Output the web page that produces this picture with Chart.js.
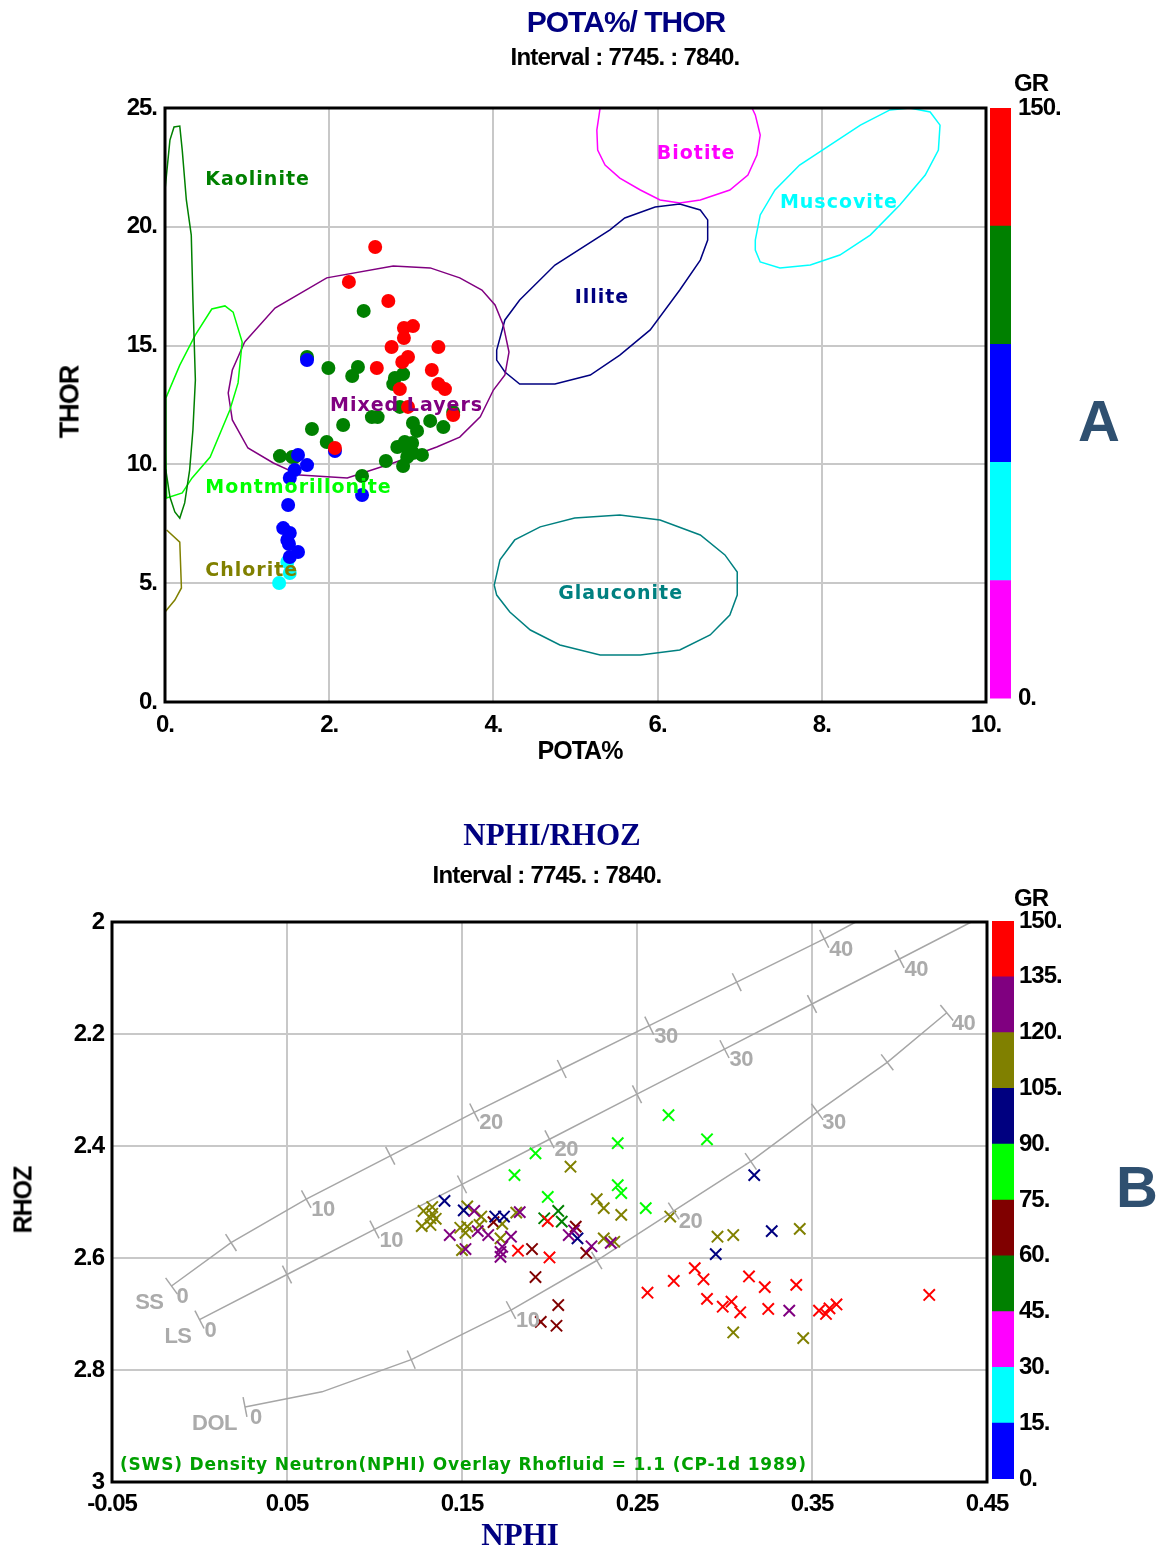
<!DOCTYPE html>
<html>
<head>
<meta charset="utf-8">
<script src="https://cdn.jsdelivr.net/npm/chart.js@4.4.1/dist/chart.umd.min.js"></script>
<style>
  body { margin: 0; background: #fff; }
  #page { position: relative; width: 1169px; height: 1549px; overflow: hidden; background: #fff; }
  canvas { position: absolute; }
  .txt { position: absolute; transform: translate(-50%, -50%); white-space: nowrap;
         font-family: 'Liberation Sans', Arial, sans-serif; font-weight: bold; color: #000; }
  .serif { font-family: 'Liberation Serif', 'Times New Roman', serif; }
</style>
</head>
<body>
<div id="page">
  <canvas id="potaChart" width="1169" height="790" style="left:0;top:0"></canvas>
  <canvas id="potaBar" width="110" height="650" style="left:985px;top:70px"></canvas>
  <canvas id="nphiChart" width="1169" height="749" style="left:0;top:800px"></canvas>
  <canvas id="nphiBar" width="110" height="620" style="left:987px;top:880px"></canvas>

  <div class="txt" style="left:626px;top:22px;font-size:30px;color:#000080;letter-spacing:-1px">POTA%/ THOR</div>
  <div class="txt" style="left:625px;top:57px;font-size:24px;letter-spacing:-0.8px">Interval : 7745. : 7840.</div>
  <div class="txt" style="left:580px;top:750px;font-size:25px;letter-spacing:-1px">POTA%</div>
  <div class="txt" style="left:70px;top:402px;font-size:27px;letter-spacing:-1px;transform:translate(-50%,-50%) rotate(-90deg)">THOR</div>
  <div class="txt" style="left:1031px;top:83px;font-size:24px;letter-spacing:-1px">GR</div>
  <div class="txt" style="left:1099px;top:420px;font-size:58px;color:#2f5070">A</div>

  <div class="txt serif" style="left:552px;top:835px;font-size:31px;color:#000080">NPHI/RHOZ</div>
  <div class="txt" style="left:547px;top:875px;font-size:24px;letter-spacing:-0.8px">Interval : 7745. : 7840.</div>
  <div class="txt serif" style="left:520px;top:1535px;font-size:31px;color:#000080">NPHI</div>
  <div class="txt" style="left:23px;top:1200px;font-size:25px;letter-spacing:-1px;transform:translate(-50%,-50%) rotate(-90deg)">RHOZ</div>
  <div class="txt" style="left:1031px;top:898px;font-size:24px;letter-spacing:-1px">GR</div>
  <div class="txt" style="left:1137px;top:1186px;font-size:58px;color:#2f5070">B</div>
</div>
<script>
// ---- POTA% / THOR crossplot ----
const potaTicks = [0, 2, 4, 6, 8, 10];
const potaLabels = ['0.', '2.', '4.', '6.', '8.', '10.'];
const thorTicks = [0, 5, 10, 15, 20, 25];
const thorLabels = ['0.', '5.', '10.', '15.', '20.', '25.'];

// points grouped by GR colour class
const potaRed = [2.56, 2.24, 2.72, 2.91, 3.02, 2.91, 2.76, 3.33, 2.96, 2.89, 2.58, 3.25, 3.33, 3.41, 2.86, 2.96, 3.51, 2.07];
const thorRed = [19.15, 17.68, 16.88, 15.74, 15.82, 15.32, 14.94, 14.94, 14.52, 14.31, 14.06, 13.97, 13.38, 13.17, 13.17, 12.42, 12.08, 10.69];
const potaGreen = [2.42, 1.99, 2.35, 2.28, 2.90, 2.80, 2.78, 2.86, 2.52, 2.59, 2.17, 1.79, 3.02, 3.07, 3.23, 3.39, 3.51, 1.97, 2.83, 2.92, 3.01, 2.96, 3.02, 3.13, 2.95, 2.69, 2.90, 2.40, 1.40, 1.55, 1.58, 1.73];
const thorGreen = [16.46, 14.06, 14.10, 13.72, 13.80, 13.64, 13.38, 12.42, 11.99, 11.99, 11.66, 11.49, 11.74, 11.41, 11.83, 11.57, 12.21, 10.94, 10.73, 10.94, 10.90, 10.61, 10.48, 10.40, 10.31, 10.14, 9.93, 9.51, 10.35, 10.31, 10.31, 14.52];
const potaBlue = [1.73, 1.62, 1.73, 1.58, 1.52, 2.07, 2.40, 1.50, 1.44, 1.52, 1.49, 1.51, 1.62, 1.52];
const thorBlue = [14.39, 10.40, 9.97, 9.76, 9.43, 10.56, 8.71, 8.29, 7.32, 7.11, 6.82, 6.65, 6.31, 6.10];
const potaCyan = [1.49, 1.52, 1.39];
const thorCyan = [5.89, 5.43, 5.01];

// mineral envelopes [pota, thor]
const kaolinite = [[0, 21.55], [0.06, 23.65], [0.11, 24.2], [0.18, 24.24], [0.21, 23.23], [0.26, 21.13], [0.32, 19.65], [0.34, 16.92], [0.37, 13.55], [0.34, 11.45], [0.30, 9.76], [0.24, 8.38], [0.18, 7.74], [0.12, 8.0], [0.06, 8.63], [0.01, 9.76], [0, 11.03]];
const montmorillonite = [[0.01, 12.79], [0.18, 14.18], [0.37, 15.45], [0.57, 16.54], [0.73, 16.67], [0.83, 16.41], [0.94, 15.15], [0.89, 13.43], [0.79, 12.29], [0.55, 10.31], [0.33, 9.43], [0.21, 8.80], [0.02, 8.59], [0.01, 10.5], [0.01, 12.79]];
const chlorite = [[0.02, 7.24], [0.18, 6.73], [0.20, 4.80], [0.12, 4.29], [0.04, 3.96], [0, 3.79]];
const mixedLayers = [[0.97, 15.15], [1.34, 16.58], [1.97, 17.85], [2.78, 18.35], [3.23, 18.27], [3.59, 17.85], [3.86, 17.34], [4.02, 16.71], [4.12, 15.87], [4.19, 14.73], [4.14, 13.76], [4.00, 13.13], [3.84, 12.0], [3.59, 11.15], [3.31, 10.73], [2.78, 10.06], [2.22, 9.43], [1.64, 9.55], [1.32, 10.06], [1.01, 10.69], [0.82, 11.87], [0.77, 13.0], [0.82, 13.97], [0.97, 15.15]];
const illite = [[4.04, 14.81], [4.14, 16.08], [4.32, 16.92], [4.75, 18.39], [5.42, 19.87], [5.60, 20.37], [5.97, 20.83], [6.27, 20.96], [6.52, 20.71], [6.61, 20.29], [6.61, 19.44], [6.52, 18.60], [6.27, 17.34], [5.91, 15.66], [5.54, 14.60], [5.18, 13.76], [4.75, 13.38], [4.32, 13.38], [4.14, 13.89], [4.04, 14.39], [4.04, 14.81]];
const biotite = [[5.30, 25.0], [5.26, 24.07], [5.27, 23.23], [5.36, 22.60], [5.54, 22.05], [5.79, 21.55], [6.03, 21.13], [6.27, 21.0], [6.52, 21.13], [6.88, 21.55], [7.10, 22.18], [7.21, 23.02], [7.25, 23.86], [7.19, 24.71], [7.15, 25.0]];
const muscovite = [[7.19, 19.44], [7.25, 20.50], [7.43, 21.55], [7.73, 22.60], [8.10, 23.44], [8.47, 24.28], [8.83, 24.92], [9.07, 25.0], [9.32, 24.83], [9.44, 24.28], [9.42, 23.23], [9.26, 22.18], [8.95, 20.92], [8.59, 19.65], [8.22, 18.81], [7.86, 18.39], [7.49, 18.27], [7.25, 18.52], [7.19, 19.02], [7.19, 19.44]];
const glauconite = [[4.01, 4.92], [4.08, 5.98], [4.26, 6.82], [4.57, 7.37], [4.99, 7.74], [5.54, 7.87], [6.03, 7.66], [6.52, 7.03], [6.82, 6.19], [6.97, 5.47], [6.97, 4.50], [6.88, 3.66], [6.64, 2.82], [6.27, 2.19], [5.79, 1.98], [5.30, 1.98], [4.81, 2.40], [4.45, 3.03], [4.20, 3.79], [4.04, 4.50], [4.01, 4.92]];

const mineralNames = ['Kaolinite', 'Montmorillonite', 'Chlorite', 'Mixed Layers', 'Illite', 'Biotite', 'Muscovite', 'Glauconite'];
const mineralColors = ['#008000', '#00ff00', '#808000', '#800080', '#000080', '#ff00ff', '#00ffff', '#008080'];
const mineralShapes = [kaolinite, montmorillonite, chlorite, mixedLayers, illite, biotite, muscovite, glauconite];
const mineralLabelPos = [[0.49, 21.97], [0.49, 9.0], [0.49, 5.51], [2.01, 12.46], [4.99, 17.0], [5.99, 23.06], [7.49, 21.0], [4.79, 4.55]];

// GR colour bars
const grTopEdges = [0, 30, 60, 90, 120, 150];
const grTopColors = ['#ff00ff', '#00ffff', '#0000ff', '#008000', '#ff0000'];
const grTopTicks = [0, 150];
const grTopLabels = ['0.', '150.'];
const grBottomEdges = [0, 15, 30, 45, 60, 75, 90, 105, 120, 135, 150];
const grBottomColors = ['#0000ff', '#00ffff', '#ff00ff', '#008000', '#800000', '#00ff00', '#000080', '#808000', '#800080', '#ff0000'];
const grBottomLabels = ['0.', '15.', '30.', '45.', '60.', '75.', '90.', '105.', '120.', '135.', '150.'];

// ---- NPHI / RHOZ crossplot ----
const nphiTicks = [-0.05, 0.05, 0.15, 0.25, 0.35, 0.45];
const nphiLabels = ['-0.05', '0.05', '0.15', '0.25', '0.35', '0.45'];
const rhozTicks = [2, 2.2, 2.4, 2.6, 2.8, 3];
const rhozLabels = ['2', '2.2', '2.4', '2.6', '2.8', '3'];

const nphiRed = [0.199, 0.182, 0.200, 0.256, 0.271, 0.283, 0.288, 0.290, 0.299, 0.304, 0.309, 0.314, 0.323, 0.325, 0.341, 0.354, 0.358, 0.360, 0.364, 0.417];
const rhozRed = [2.534, 2.587, 2.599, 2.662, 2.641, 2.618, 2.638, 2.673, 2.687, 2.678, 2.697, 2.633, 2.652, 2.691, 2.648, 2.694, 2.700, 2.690, 2.683, 2.666];
const nphiPurple = [0.157, 0.143, 0.152, 0.159, 0.165, 0.178, 0.173, 0.172, 0.172, 0.183, 0.211, 0.214, 0.224, 0.235, 0.337];
const rhozPurple = [2.516, 2.559, 2.584, 2.552, 2.559, 2.562, 2.580, 2.589, 2.598, 2.518, 2.559, 2.551, 2.579, 2.573, 2.694];
const nphiOlive = [0.128, 0.133, 0.133, 0.132, 0.127, 0.132, 0.135, 0.153, 0.149, 0.153, 0.152, 0.161, 0.160, 0.173, 0.181, 0.172, 0.150, 0.212, 0.227, 0.231, 0.241, 0.231, 0.237, 0.269, 0.296, 0.305, 0.343, 0.305, 0.345];
const rhozOlive = [2.516, 2.509, 2.521, 2.529, 2.543, 2.541, 2.530, 2.508, 2.546, 2.544, 2.555, 2.526, 2.541, 2.539, 2.519, 2.565, 2.586, 2.437, 2.495, 2.511, 2.523, 2.565, 2.571, 2.526, 2.562, 2.559, 2.548, 2.733, 2.743];
const nphiNavy = [0.140, 0.151, 0.169, 0.174, 0.216, 0.295, 0.317, 0.327];
const rhozNavy = [2.498, 2.515, 2.526, 2.526, 2.565, 2.593, 2.452, 2.552];
const nphiLime = [0.268, 0.290, 0.239, 0.192, 0.180, 0.199, 0.239, 0.241, 0.255];
const rhozLime = [2.345, 2.388, 2.395, 2.413, 2.452, 2.491, 2.470, 2.484, 2.511];
const nphiMaroon = [0.168, 0.190, 0.192, 0.205, 0.195, 0.204, 0.215, 0.221];
const rhozMaroon = [2.536, 2.584, 2.634, 2.684, 2.714, 2.721, 2.544, 2.591];
const nphiGreen = [0.205, 0.207, 0.197];
const rhozGreen = [2.516, 2.535, 2.529];

// lithology lines (rho fluid 1.1), porosity in p.u., null = no tick
const ssNphi = [-0.016, 0.018, 0.061, 0.109, 0.157, 0.207, 0.257, 0.307, 0.357, 0.375];
const ssRhoz = [2.65, 2.5725, 2.495, 2.4175, 2.34, 2.2625, 2.185, 2.1075, 2.03, 2.0];
const ssPor = [0, 5, 10, 15, 20, 25, 30, 35, 40, null];
const lsNphi = [0, 0.05, 0.10, 0.15, 0.20, 0.25, 0.30, 0.35, 0.40, 0.441];
const lsRhoz = [2.71, 2.6295, 2.549, 2.4685, 2.388, 2.3075, 2.227, 2.1465, 2.066, 2.0];
const lsPor = [0, 5, 10, 15, 20, 25, 30, 35, 40, null];
const dolNphi = [0.026, 0.070, 0.121, 0.178, 0.227, 0.271, 0.315, 0.353, 0.393, 0.427];
const dolRhoz = [2.866, 2.839, 2.7815, 2.693, 2.6045, 2.516, 2.4275, 2.339, 2.2505, 2.162];
const dolPor = [0, null, 5, 10, 15, 20, 25, 30, 35, 40];

const footnote = '(SWS) Density Neutron(NPHI) Overlay Rhofluid = 1.1 (CP-1d 1989)';

Chart.defaults.font.family = "'Liberation Sans', Arial, sans-serif";
Chart.defaults.color = '#000';

const pts = (xs, ys) => xs.map((x, i) => ({ x: x, y: ys[i] }));
const pairs = arr => arr.map(p => ({ x: p[0], y: p[1] }));
const tickFont = { size: 24, weight: 'bold' };

// squeeze tick text a little like the original renderer
const tightText = {
    id: 'tightText',
    beforeDraw(chart) { chart.ctx.letterSpacing = '-1px'; }
};

const frame = {
    id: 'frame',
    afterDatasetsDraw(chart) {
        const { ctx, chartArea: a } = chart;
        ctx.save();
        ctx.strokeStyle = '#000';
        ctx.lineWidth = 3;
        ctx.strokeRect(a.left, a.top, a.right - a.left, a.bottom - a.top);
        ctx.restore();
    }
};

const mineralText = {
    id: 'mineralText',
    afterDraw(chart) {
        const { ctx, scales: { x, y } } = chart;
        ctx.save();
        ctx.font = "bold 19px 'DejaVu Sans', Verdana, sans-serif";
        ctx.letterSpacing = '1px';
        ctx.textAlign = 'left';
        ctx.textBaseline = 'middle';
        mineralNames.forEach((name, i) => {
            ctx.fillStyle = mineralColors[i];
            ctx.fillText(name, x.getPixelForValue(mineralLabelPos[i][0]), y.getPixelForValue(mineralLabelPos[i][1]));
        });
        ctx.restore();
    }
};

const lithoLines = [
    { name: 'SS', nphi: ssNphi, rhoz: ssRhoz, por: ssPor },
    { name: 'LS', nphi: lsNphi, rhoz: lsRhoz, por: lsPor },
    { name: 'DOL', nphi: dolNphi, rhoz: dolRhoz, por: dolPor }
];

const overlay = {
    id: 'overlay',
    afterDatasetsDraw(chart) {
        const { ctx, chartArea: a, scales: { x, y } } = chart;
        ctx.save();
        ctx.strokeStyle = '#a6a6a6';
        ctx.lineWidth = 1.5;
        ctx.fillStyle = '#ababab';
        ctx.font = "bold 22px 'Liberation Sans', Arial, sans-serif";
        ctx.letterSpacing = '-0.5px';
        ctx.textBaseline = 'middle';
        lithoLines.forEach(line => {
            const px = line.nphi.map(v => x.getPixelForValue(v));
            const py = line.rhoz.map(v => y.getPixelForValue(v));
            line.por.forEach((p, i) => {
                if (p === null) return;
                const j0 = Math.max(i - 1, 0), j1 = Math.min(i + 1, px.length - 1);
                let dx = px[j1] - px[j0], dy = py[j1] - py[j0];
                const len = Math.hypot(dx, dy);
                const nx = -dy / len, ny = dx / len;
                ctx.beginPath();
                ctx.moveTo(px[i] - nx * 10, py[i] - ny * 10);
                ctx.lineTo(px[i] + nx * 10, py[i] + ny * 10);
                ctx.stroke();
                if (p % 10 === 0) {
                    ctx.textAlign = 'left';
                    ctx.fillText(String(p), px[i] + 5, py[i] + 11);
                }
            });
            ctx.textAlign = 'right';
            ctx.fillText(line.name, px[0] - 8, py[0] + 17);
        });
        // chart note
        ctx.fillStyle = '#00a000';
        ctx.font = "bold 17px 'DejaVu Sans', Verdana, sans-serif";
        ctx.letterSpacing = '0.8px';
        ctx.textAlign = 'left';
        ctx.fillText(footnote, a.left + 8, a.bottom - 16);
        ctx.restore();
    }
};

// POTA / THOR chart
const potaDatasets = [
    { data: pts(potaRed, thorRed), color: '#ff0000' },
    { data: pts(potaBlue, thorBlue), color: '#0000ff' },
    { data: pts(potaGreen, thorGreen), color: '#008000' },
    { data: pts(potaCyan, thorCyan), color: '#00ffff' }
].map(d => ({
    data: d.data, pointRadius: 7, pointStyle: 'circle',
    backgroundColor: d.color, borderWidth: 0, showLine: false
}));
mineralShapes.forEach((shape, i) => {
    potaDatasets.push({
        data: pairs(shape), showLine: true, pointRadius: 0,
        borderColor: mineralColors[i], borderWidth: 1.5, tension: 0, fill: false
    });
});

new Chart(document.getElementById('potaChart'), {
    type: 'scatter',
    data: { datasets: potaDatasets },
    options: {
        responsive: false,
        animation: false,
        layout: { padding: { top: 108, right: 183, bottom: 8, left: 0 } },
        plugins: { legend: { display: false }, tooltip: { enabled: false } },
        scales: {
            x: {
                type: 'linear', min: 0, max: 10,
                afterBuildTicks: s => { s.ticks = potaTicks.map(v => ({ value: v })); },
                afterFit: s => { s.height = 80; },
                grid: { color: '#c8c8c8', lineWidth: 2, drawTicks: false },
                border: { display: false },
                ticks: { padding: 9, font: tickFont, maxRotation: 0, callback: (v, i) => potaLabels[i] }
            },
            y: {
                type: 'linear', min: 0, max: 25,
                afterBuildTicks: s => { s.ticks = thorTicks.map(v => ({ value: v })); },
                afterFit: s => { s.width = 165; },
                grid: { color: '#c8c8c8', lineWidth: 2, drawTicks: false },
                border: { display: false },
                ticks: { padding: 8, font: tickFont, callback: (v, i) => thorLabels[i] }
            }
        }
    },
    plugins: [tightText, frame, mineralText]
});

// NPHI / RHOZ chart
const nphiDatasets = [
    { data: pts(nphiRed, rhozRed), color: '#ff0000' },
    { data: pts(nphiPurple, rhozPurple), color: '#800080' },
    { data: pts(nphiNavy, rhozNavy), color: '#000080' },
    { data: pts(nphiOlive, rhozOlive), color: '#808000' },
    { data: pts(nphiMaroon, rhozMaroon), color: '#800000' },
    { data: pts(nphiGreen, rhozGreen), color: '#008000' },
    { data: pts(nphiLime, rhozLime), color: '#00ff00' }
].map(d => ({
    data: d.data, pointRadius: 8, pointStyle: 'crossRot',
    borderColor: d.color, backgroundColor: d.color, borderWidth: 2, showLine: false
}));
lithoLines.forEach(line => {
    nphiDatasets.push({
        data: pts(line.nphi, line.rhoz), showLine: true, pointRadius: 0,
        borderColor: '#a6a6a6', borderWidth: 1.5, tension: 0, fill: false
    });
});

new Chart(document.getElementById('nphiChart'), {
    type: 'scatter',
    data: { datasets: nphiDatasets },
    options: {
        responsive: false,
        animation: false,
        layout: { padding: { top: 122, right: 182, bottom: 7, left: 0 } },
        plugins: { legend: { display: false }, tooltip: { enabled: false } },
        scales: {
            x: {
                type: 'linear', min: -0.05, max: 0.45,
                afterBuildTicks: s => { s.ticks = nphiTicks.map(v => ({ value: v })); },
                afterFit: s => { s.height = 60; },
                grid: { color: '#c8c8c8', lineWidth: 2, drawTicks: false },
                border: { display: false },
                ticks: { padding: 8, font: tickFont, maxRotation: 0, callback: (v, i) => nphiLabels[i] }
            },
            y: {
                type: 'linear', min: 2, max: 3, reverse: true,
                afterBuildTicks: s => { s.ticks = rhozTicks.map(v => ({ value: v })); },
                afterFit: s => { s.width = 112; },
                grid: { color: '#c8c8c8', lineWidth: 2, drawTicks: false },
                border: { display: false },
                ticks: { padding: 8, font: tickFont, callback: (v, i) => rhozLabels[i] }
            }
        }
    },
    plugins: [tightText, frame, overlay]
});

// GR colour scales
function grBar(id, edges, colors, tickVals, labels, pad, axisWidth, tickPad) {
    return new Chart(document.getElementById(id), {
        type: 'bar',
        data: {
            labels: [''],
            datasets: colors.map((c, i) => ({
                data: [edges[i + 1] - edges[i]], backgroundColor: c, borderWidth: 0,
                barPercentage: 1, categoryPercentage: 1
            }))
        },
        options: {
            responsive: false,
            animation: false,
            layout: { padding: pad },
            plugins: { legend: { display: false }, tooltip: { enabled: false } },
            scales: {
                x: { display: false, stacked: true },
                y: {
                    stacked: true, position: 'right', min: 0, max: 150,
                    afterBuildTicks: s => { s.ticks = tickVals.map(v => ({ value: v })); },
                    afterFit: s => { s.width = axisWidth; },
                    grid: { display: false, drawTicks: false },
                    border: { display: false },
                    ticks: { padding: tickPad, font: tickFont, callback: (v, i) => labels[i] }
                }
            }
        },
        plugins: [tightText]
    });
}

grBar('potaBar', grTopEdges, grTopColors, grTopTicks, grTopLabels,
    { top: 38, bottom: 18, left: 5, right: 0 }, 84, 7);
grBar('nphiBar', grBottomEdges, grBottomColors, grBottomEdges, grBottomLabels,
    { top: 41, bottom: 21, left: 5, right: 0 }, 83, 5);
</script>
</body>
</html>
